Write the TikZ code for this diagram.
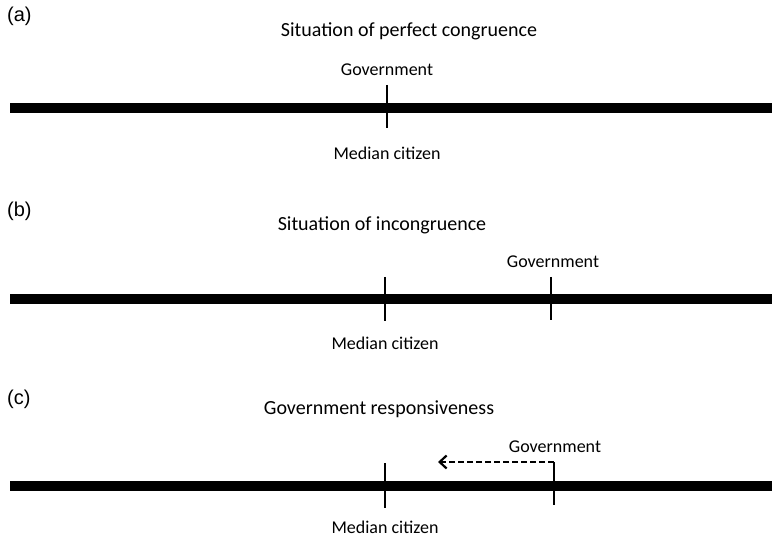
\documentclass[tikz,border=0pt]{standalone}
\usepackage{fontspec}
\setmainfont{Carlito}
\newfontfamily\lblfont{Liberation Sans}
\usetikzlibrary{arrows.meta}
\tikzset{
  bar/.style={line width=10pt},
  tickmark/.style={line width=2pt},
  lbl/.style={font=\fontsize{18}{21}\selectfont, inner sep=0pt},
  ttl/.style={font=\fontsize{20}{23}\selectfont, inner sep=0pt},
  panel/.style={font=\lblfont\fontsize{20}{23}\selectfont, inner sep=0pt, anchor=west},
  move/.style={line width=2.2pt, dash pattern=on 6pt off 3pt, -{Straight Barb[length=7pt,width=13pt,line width=2.2pt]}}
}
\begin{document}
\begin{tikzpicture}[x=1pt,y=-1pt]
\useasboundingbox (0,0) rectangle (772,540);
% (a)
\node[panel] (pa) at (7,16) {(a)};
\node[ttl] (ta) at (409,31) {Situation of perfect congruence};
\coordinate (al) at (10,108); \coordinate (ar) at (772,108);
\draw[bar] (al) -- (ar);
\coordinate (at1) at (387,85); \coordinate (ab1) at (387,128);
\draw[tickmark] (at1) -- (ab1);
\node[lbl] (ga) at (387,70) {Government};
\node[lbl] (ma) at (387,153) {Median citizen};
% (b)
\node[panel] (pb) at (7,211) {(b)};
\node[ttl] (tb) at (382,225) {Situation of incongruence};
\coordinate (bl) at (10,299); \coordinate (br) at (772,299);
\draw[bar] (bl) -- (br);
\coordinate (bt1) at (385,277); \coordinate (bb1) at (385,321);
\draw[tickmark] (bt1) -- (bb1);
\coordinate (bt2) at (551,277); \coordinate (bb2) at (551,320);
\draw[tickmark] (bt2) -- (bb2);
\node[lbl] (gb) at (553,262) {Government};
\node[lbl] (mb) at (385,343) {Median citizen};
% (c)
\node[panel] (pc) at (7,399) {(c)};
\node[ttl] (tc) at (379,409) {Government responsiveness};
\coordinate (cl) at (10,486); \coordinate (cr) at (772,486);
\draw[bar] (cl) -- (cr);
\coordinate (ct1) at (385,463); \coordinate (cb1) at (385,508);
\draw[tickmark] (ct1) -- (cb1);
\coordinate (ct2) at (554,462); \coordinate (cb2) at (554,505);
\draw[tickmark] (ct2) -- (cb2);
\coordinate (ce) at (438,462);
\draw[move] (ct2) -- (ce);
\node[lbl] (gc) at (555,447) {Government};
\node[lbl] (mc) at (385,527) {Median citizen};
\end{tikzpicture}
\end{document}
